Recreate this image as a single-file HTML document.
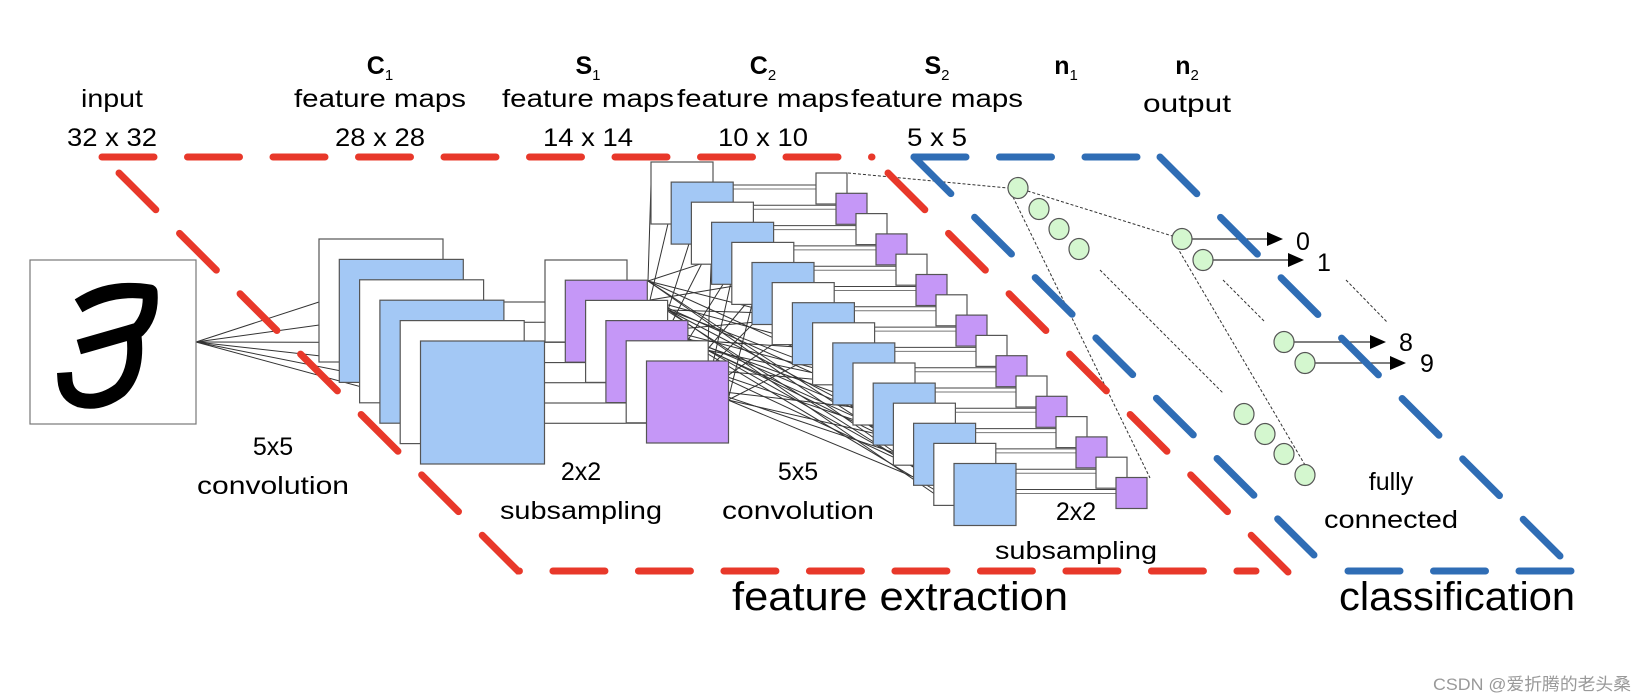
<!DOCTYPE html>
<html><head><meta charset="utf-8"><style>
html,body{margin:0;padding:0;background:#fff;}
svg{display:block;}
text{font-family:"Liberation Sans","Noto Sans CJK SC",sans-serif;fill:#000;}
</style></head><body>
<svg id="s" width="1640" height="700" viewBox="0 0 1640 700" xmlns="http://www.w3.org/2000/svg">
<g id="lines" stroke="#333" stroke-width="1" fill="none"></g>
<g id="boxes" stroke="#555" stroke-width="1.2"></g>
<g id="fc"></g>
<!-- input box -->
<rect x="30" y="260" width="166" height="164" fill="#fff" stroke="#777" stroke-width="1.2"/>
<path d="M85 302 Q112 286 150 292 Q152 316 138 330 Q110 338 86 345 M134 336 Q138 372 120 390 Q100 405 80 400 Q66 395 65 380" fill="none" stroke="#000" stroke-width="15" stroke-linecap="square" stroke-linejoin="round"/>
<!-- frames -->
<g fill="none" stroke-linecap="round" stroke-width="7">
<path d="M102 157 H872" stroke="#e8382a" stroke-dasharray="52 33.5"/>
<path d="M119 173 L518 571 H1256" stroke="#e8382a" stroke-dasharray="52 33.5"/>
<path d="M888 173 L1288 572" stroke="#e8382a" stroke-dasharray="52 33.5"/>
<path d="M914 157 H1140" stroke="#2f6db5" stroke-dasharray="52 33.5"/>
<path d="M914 157 L1314 555" stroke="#2f6db5" stroke-dasharray="52 33.5"/>
<path d="M1160 157 L1575 571" stroke="#2f6db5" stroke-dasharray="52 33.5"/>
<path d="M1348 571 H1575" stroke="#2f6db5" stroke-dasharray="52 33.5"/>
</g>
<!-- labels -->
<g font-size="25" text-anchor="middle">
<text x="112" y="107" textLength="62" lengthAdjust="spacingAndGlyphs">input</text>
<text x="112" y="146" textLength="90" lengthAdjust="spacingAndGlyphs">32 x 32</text>
<text x="380" y="74" font-weight="bold">C<tspan font-size="15" font-weight="normal" dy="6">1</tspan></text>
<text x="380" y="107" textLength="172" lengthAdjust="spacingAndGlyphs">feature maps</text>
<text x="380" y="146" textLength="90" lengthAdjust="spacingAndGlyphs">28 x 28</text>
<text x="588" y="74" font-weight="bold">S<tspan font-size="15" font-weight="normal" dy="6">1</tspan></text>
<text x="588" y="107" textLength="172" lengthAdjust="spacingAndGlyphs">feature maps</text>
<text x="588" y="146" textLength="90" lengthAdjust="spacingAndGlyphs">14 x 14</text>
<text x="763" y="74" font-weight="bold">C<tspan font-size="15" font-weight="normal" dy="6">2</tspan></text>
<text x="763" y="107" textLength="172" lengthAdjust="spacingAndGlyphs">feature maps</text>
<text x="763" y="146" textLength="90" lengthAdjust="spacingAndGlyphs">10 x 10</text>
<text x="937" y="74" font-weight="bold">S<tspan font-size="15" font-weight="normal" dy="6">2</tspan></text>
<text x="937" y="107" textLength="172" lengthAdjust="spacingAndGlyphs">feature maps</text>
<text x="937" y="146" textLength="60" lengthAdjust="spacingAndGlyphs">5 x 5</text>
<text x="1066" y="74" font-weight="bold">n<tspan font-size="15" font-weight="normal" dy="6">1</tspan></text>
<text x="1187" y="74" font-weight="bold">n<tspan font-size="15" font-weight="normal" dy="6">2</tspan></text>
<text x="1187" y="112" textLength="88" lengthAdjust="spacingAndGlyphs">output</text>
<text x="273" y="455">5x5</text>
<text x="273" y="494" textLength="152" lengthAdjust="spacingAndGlyphs">convolution</text>
<text x="581" y="480">2x2</text>
<text x="581" y="519" textLength="162" lengthAdjust="spacingAndGlyphs">subsampling</text>
<text x="798" y="480">5x5</text>
<text x="798" y="519" textLength="152" lengthAdjust="spacingAndGlyphs">convolution</text>
<text x="1076" y="520">2x2</text>
<text x="1076" y="559" textLength="162" lengthAdjust="spacingAndGlyphs">subsampling</text>
<text x="1391" y="490">fully</text>
<text x="1391" y="528" textLength="134" lengthAdjust="spacingAndGlyphs">connected</text>
</g>
<g font-size="25">
<text x="1296" y="250">0</text>
<text x="1317" y="271">1</text>
<text x="1399" y="351">8</text>
<text x="1420" y="372">9</text>
</g>
<text x="900" y="610" font-size="40" text-anchor="middle" textLength="336" lengthAdjust="spacingAndGlyphs">feature extraction</text>
<text x="1457" y="610" font-size="40" text-anchor="middle" textLength="236" lengthAdjust="spacingAndGlyphs">classification</text>
<text x="1433" y="690" font-size="17" style="fill:#999" textLength="198" lengthAdjust="spacingAndGlyphs">CSDN @爱折腾的老头桑</text>
</svg>
<script>
var NS="http://www.w3.org/2000/svg";
function el(p,t,a){var e=document.createElementNS(NS,t);for(var k in a)e.setAttribute(k,a[k]);p.appendChild(e);return e;}
var L=document.getElementById('lines'),B=document.getElementById('boxes'),F=document.getElementById('fc');
var BL="#a3c8f5",PU="#c597f7",W="#fff";
var c1=[],i;for(i=0;i<6;i++)c1.push({x:319+20.3*i,y:239+20.4*i,w:124,h:123,f:i%2?BL:W});
for(i=0;i<6;i++)el(L,'line',{x1:196,y1:342,x2:c1[i].x,y2:302+20.2*i});
var s1=[];for(i=0;i<6;i++)s1.push({x:545+20.3*i,y:260+20.2*i,w:82,h:82,f:i%2?PU:W});
for(i=0;i<7;i++){var tx=545+20.3*Math.min(i,5);el(L,'line',{x1:440,y1:302+20.2*i,x2:tx,y2:302+20.2*i});}
var c2=[];for(i=0;i<16;i++)c2.push({x:651+20.2*i,y:162+20.1*i,w:62,h:62,f:i%2?BL:W});
var s2=[];for(i=0;i<16;i++)s2.push({x:816+20*i,y:173+20.3*i,w:31,h:31,f:i%2?PU:W});
var src=[[648,281],[650,300],[668,310],[668,330],[688,340],[707,350],[707,370],[707,390],[728,400]];
for(var j=0;j<16;j++){var ty=c2[j].y+22+(j%3)*6;for(var k=0;k<3;k++){var s=src[(j+k*3)%src.length];if(s[0]<c2[j].x)el(L,'line',{x1:s[0],y1:s[1],x2:c2[j].x,y2:ty+k*8});}}
for(j=0;j<16;j++){var yy=s2[j].y+12;el(L,'line',{x1:c2[j].x+40,y1:yy,x2:s2[j].x,y2:yy,stroke:'#444'});el(L,'line',{x1:c2[j].x+40,y1:yy+4,x2:s2[j].x,y2:yy+4,stroke:'#777'});}
function draw(a){a.forEach(function(b){el(B,'rect',{x:b.x,y:b.y,width:b.w,height:b.h,fill:b.f});});}
draw(c1);draw(s1);draw(c2);draw(s2);
var dl=[[848,173,1008,188],[1018,188,1182,239],[1013,197,1150,478],[1177,247,1305,465],[1100,270,1223,393],[1223,280,1265,322],[1346,280,1387,322]];
dl.forEach(function(d){el(F,'line',{x1:d[0],y1:d[1],x2:d[2],y2:d[3],stroke:'#333','stroke-width':1,'stroke-dasharray':'3 2'});});
var ar=[[1182,239,1283],[1203,260,1304],[1284,342,1386],[1305,363,1406]];
ar.forEach(function(a){el(F,'line',{x1:a[0],y1:a[1],x2:a[2]-14,y2:a[1],stroke:'#333','stroke-width':1.3});el(F,'polygon',{points:(a[2]-16)+','+(a[1]-7)+' '+a[2]+','+a[1]+' '+(a[2]-16)+','+(a[1]+7),fill:'#000'});});
var cc=[[1018,188],[1039,209],[1059,229],[1079,249],[1244,414],[1265,434],[1284,454],[1305,475],[1182,239],[1203,260],[1284,342],[1305,363]];
cc.forEach(function(c){el(F,'ellipse',{cx:c[0],cy:c[1],rx:10,ry:10.5,fill:'#d4f7cf',stroke:'#555','stroke-width':1.2});});
</script>
</body></html>
